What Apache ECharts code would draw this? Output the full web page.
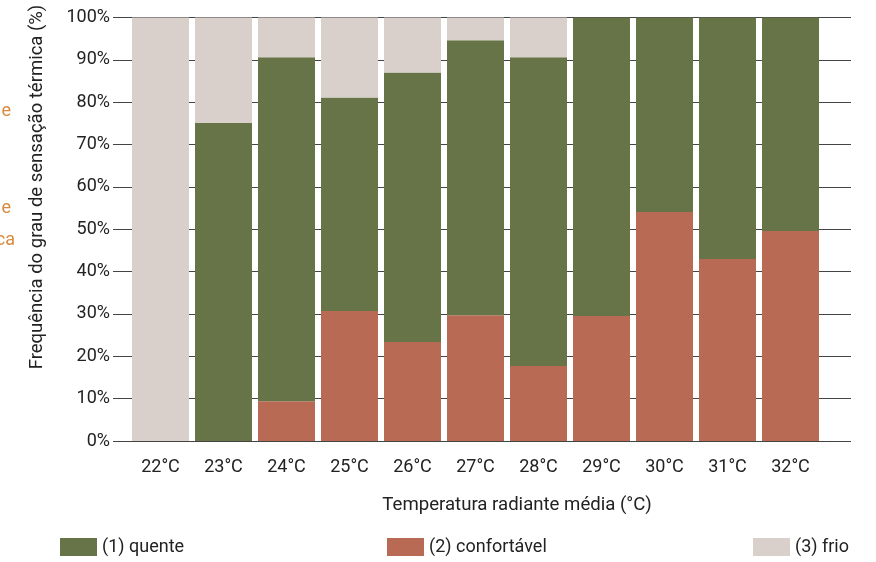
<!DOCTYPE html>
<html>
<head>
<meta charset="utf-8">
<script src="https://cdn.jsdelivr.net/npm/echarts@6/dist/echarts.min.js"></script>
<style>html,body{margin:0;padding:0;background:#fff;}#c{width:876px;height:562px;}</style>
</head>
<body>
<div id="c"></div>
<script>
const categories = ['22°C','23°C','24°C','25°C','26°C','27°C','28°C','29°C','30°C','31°C','32°C'];
const confortavel = [0, 0, 9.4, 30.7, 23.4, 29.7, 17.7, 29.5, 54.1, 43.0, 49.6];
const quente = [0, 75.1, 81.2, 50.4, 63.6, 64.9, 72.9, 70.5, 45.9, 57.0, 50.4];
const frio = [100, 24.9, 9.4, 18.9, 13.0, 5.4, 9.4, 0, 0, 0, 0];
const yTicks = [0, 10, 20, 30, 40, 50, 60, 70, 80, 90, 100];

const FONT = 'Roboto';
const TXT = '#222';
const chart = echarts.init(document.getElementById('c'), null, {renderer: 'canvas'});
const gridTop = 17.5, gridBottom = 121;
const legendBase = {itemWidth: 37, itemHeight: 18, icon: 'rect', padding: 0, itemGap: 0,
  textStyle: {color: TXT, fontSize: 18, fontFamily: FONT, padding: [0, 0, 0, 0]}};
chart.setOption({
  animation: false,
  textStyle: {fontFamily: FONT},
  grid: [
    {left: 129, right: 54, top: gridTop, bottom: gridBottom},
    {left: 113, right: 25, top: gridTop, bottom: gridBottom}
  ],
  xAxis: [
    {type: 'category', gridIndex: 0, data: categories,
     axisLine: {show: false}, axisTick: {show: false},
     axisLabel: {color: TXT, fontSize: 18, fontFamily: FONT, margin: 17}},
    {type: 'value', gridIndex: 1, show: false}
  ],
  yAxis: [
    {type: 'value', gridIndex: 0, min: 0, max: 100, show: false},
    {type: 'value', gridIndex: 1, min: 0, max: 100, interval: 10,
     axisLine: {show: false}, axisTick: {show: false},
     splitLine: {show: true, lineStyle: {color: '#444', width: 1}},
     axisLabel: {color: TXT, fontSize: 18, fontFamily: FONT, margin: 3,
       formatter: v => (yTicks.indexOf(v) >= 0 ? v + '%' : '')}}
  ],
  legend: [
    Object.assign({}, legendBase, {data: ['(1) quente'], left: 60, top: 538}),
    Object.assign({}, legendBase, {data: ['(2) confortável'], left: 387, top: 538}),
    Object.assign({}, legendBase, {data: ['(3) frio'], left: 753, top: 538})
  ],
  series: [
    {name: '(2) confortável', type: 'bar', stack: 's', xAxisIndex: 0, yAxisIndex: 0,
     barWidth: 57, data: confortavel, itemStyle: {color: '#b86a54'}},
    {name: '(1) quente', type: 'bar', stack: 's', xAxisIndex: 0, yAxisIndex: 0,
     barWidth: 57, data: quente, itemStyle: {color: '#677447'}},
    {name: '(3) frio', type: 'bar', stack: 's', xAxisIndex: 0, yAxisIndex: 0,
     barWidth: 57, data: frio, itemStyle: {color: '#d9d0cb'}}
  ],
  graphic: [
    {type: 'text', x: 37, y: 187, rotation: Math.PI / 2,
     style: {text: 'Frequência do grau de sensação térmica (%)', fill: TXT, fontSize: 18.5, fontFamily: FONT,
       textAlign: 'center', textVerticalAlign: 'middle'}},
    {type: 'text', x: 517, y: 505,
     style: {text: 'Temperatura radiante média (°C)', fill: TXT, fontSize: 18.6, fontFamily: FONT,
       textAlign: 'center', textVerticalAlign: 'middle'}},
    {type: 'text', x: 11, y: 111,
     style: {text: 'e', fill: '#d98a3c', fontSize: 18, fontFamily: FONT, textAlign: 'right', textVerticalAlign: 'middle'}},
    {type: 'text', x: 11, y: 208,
     style: {text: 'e', fill: '#d98a3c', fontSize: 18, fontFamily: FONT, textAlign: 'right', textVerticalAlign: 'middle'}},
    {type: 'text', x: 15, y: 240,
     style: {text: 'ca', fill: '#d98a3c', fontSize: 18, fontFamily: FONT, textAlign: 'right', textVerticalAlign: 'middle'}}
  ]
});
</script>
</body>
</html>
